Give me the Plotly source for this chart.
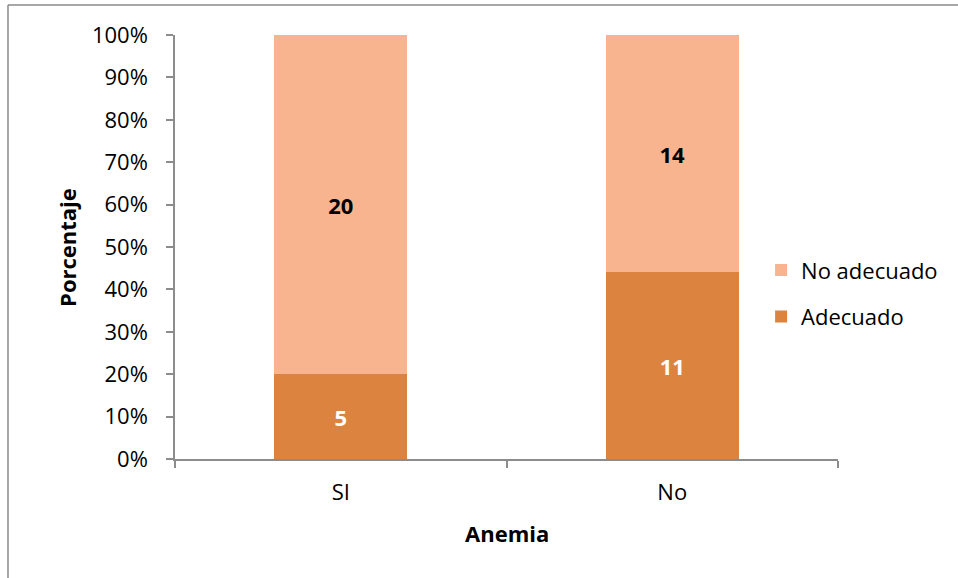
import plotly.graph_objects as go

# Counts per anemia group
categories = ["SI", "No"]
adecuado = [5, 11]
no_adecuado = [20, 14]
y_ticks = [0, 10, 20, 30, 40, 50, 60, 70, 80, 90, 100]
y_tick_labels = [f"{v}%" for v in y_ticks]

FONT = "'Open Sans', 'Noto Sans', sans-serif"
SIZE = 22
AXIS_GREY = "#8c8c8c"

fig = go.Figure()
fig.add_trace(go.Bar(
    x=categories, y=adecuado, name="Adecuado",
    marker=dict(color="#DC843F", line=dict(width=0)),
    text=[str(v) for v in adecuado], textposition="inside",
    insidetextanchor="middle",
    textfont=dict(family=FONT, size=SIZE, color="white", weight="bold"),
    width=0.4, legendgroup="a", legendrank=2,
))
fig.add_trace(go.Bar(
    x=categories, y=no_adecuado, name="No adecuado",
    marker=dict(color="#F8B48F", line=dict(width=0)),
    text=[str(v) for v in no_adecuado], textposition="inside",
    insidetextanchor="middle",
    textfont=dict(family=FONT, size=SIZE, color="black", weight="bold"),
    width=0.4, legendgroup="b", legendrank=1,
))

fig.update_layout(
    width=958, height=578,
    margin=dict(l=175, r=120, t=35, b=119),
    barmode="stack", barnorm="percent",
    plot_bgcolor="white", paper_bgcolor="white",
    font=dict(family=FONT, size=SIZE, color="black"),
    showlegend=True,
    legend=dict(
        x=0.884, y=0.39, xanchor="left", yanchor="middle",
        traceorder="grouped", tracegroupgap=15,
        font=dict(family=FONT, size=SIZE, color="black"),
        itemwidth=30, bgcolor="rgba(0,0,0,0)",
    ),
    uniformtext=dict(minsize=8),
)

fig.update_xaxes(
    type="category", range=[-0.5, 1.5],
    showline=True, linecolor=AXIS_GREY, linewidth=1.5,
    ticks="outside", tickson="boundaries", ticklen=7, tickcolor=AXIS_GREY,
    tickwidth=1.5, showgrid=False, zeroline=False,
    tickfont=dict(family=FONT, size=SIZE, color="black"),
    ticklabelstandoff=13,
)
fig.update_yaxes(
    range=[0, 100], tickvals=y_ticks, ticktext=y_tick_labels,
    showline=True, linecolor=AXIS_GREY, linewidth=1.5,
    ticks="outside", ticklen=7, tickcolor=AXIS_GREY, tickwidth=1.5,
    showgrid=False, zeroline=False,
    tickfont=dict(family=FONT, size=SIZE, color="black"),
    ticklabelstandoff=14,
)

# Axis titles
fig.add_annotation(text="<b>Porcentaje</b>", xref="paper", yref="paper",
                   x=-0.163, y=0.5, textangle=-90, showarrow=False,
                   font=dict(family=FONT, size=SIZE, color="black"),
                   xanchor="center", yanchor="middle")
fig.add_annotation(text="<b>Anemia</b>", xref="paper", yref="paper",
                   x=0.5, y=-0.1745, showarrow=False,
                   font=dict(family=FONT, size=SIZE, color="black"),
                   xanchor="center", yanchor="middle")

# Chart frame (left and top edges)
fig.add_shape(type="line", xref="paper", yref="paper",
              x0=-0.2519, x1=-0.2519, y0=-0.3, y1=1.0708,
              line=dict(color="#8a8a8a", width=1.5))
fig.add_shape(type="line", xref="paper", yref="paper",
              x0=-0.2519, x1=1.2, y0=1.0708, y1=1.0708,
              line=dict(color="#8a8a8a", width=1.5))

fig.write_html("out.html")
